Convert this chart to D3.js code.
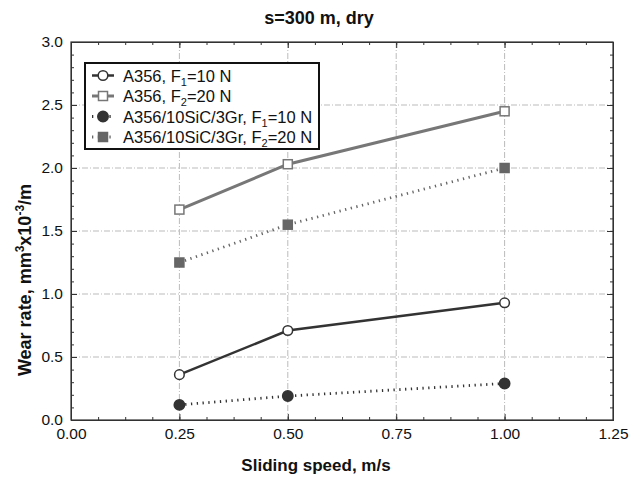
<!DOCTYPE html>
<html>
<head>
<meta charset="utf-8">
<script src="https://cdn.jsdelivr.net/npm/d3@7"></script>
<style>
  body { margin: 0; background: #fff; }
  text { font-family: "Liberation Sans", Arial, sans-serif; }
</style>
</head>
<body>
<script>
// data
var speeds = [0.25, 0.5, 1.0];
var a356F1 = [0.36, 0.71, 0.93];
var a356F2 = [1.67, 2.03, 2.45];
var compF1 = [0.12, 0.19, 0.29];
var compF2 = [1.25, 1.55, 2.0];
var xTicks = [0, 0.25, 0.5, 0.75, 1.0, 1.25];
var yTicks = [0, 0.5, 1.0, 1.5, 2.0, 2.5, 3.0];

var series = [
  { base: "A356, F", sub: "1", rest: "=10 N", values: a356F1, color: "#333", width: 2.5, dash: null, marker: "circle", fill: "#fff" },
  { base: "A356, F", sub: "2", rest: "=20 N", values: a356F2, color: "#777", width: 3, dash: null, marker: "square", fill: "#fff" },
  { base: "A356/10SiC/3Gr, F", sub: "1", rest: "=10 N", values: compF1, color: "#333", width: 2.8, dash: "1.3,4.5", marker: "circle", fill: "#333" },
  { base: "A356/10SiC/3Gr, F", sub: "2", rest: "=20 N", values: compF2, color: "#666", width: 2.8, dash: "1.3,4.5", marker: "square", fill: "#666" }
];

var W = 638, H = 480;
var m = { left: 71, right: 613, top: 42, bottom: 420 };

var svg = d3.select("body").append("svg")
    .attr("width", W)
    .attr("height", H);

var x = d3.scaleLinear().domain([0, 1.25]).range([m.left, m.right]);
var y = d3.scaleLinear().domain([0, 3]).range([m.bottom, m.top]);

// grid
var grid = svg.append("g").attr("stroke", "#bbb").attr("stroke-width", 1).attr("stroke-dasharray", "6,2,1,2");
grid.selectAll(".gx").data(xTicks.slice(1, -1)).enter().append("line")
    .attr("x1", function (d) { return x(d); }).attr("x2", function (d) { return x(d); })
    .attr("y1", m.top).attr("y2", m.bottom);
grid.selectAll(".gy").data(yTicks.slice(1, -1)).enter().append("line")
    .attr("y1", function (d) { return y(d); }).attr("y2", function (d) { return y(d); })
    .attr("x1", m.left).attr("x2", m.right);

// axes with inward ticks, all four sides
var xMinor = d3.range(0, 1.2501, 0.0625);
var yMinor = d3.range(0, 3.001, 0.1);
function fmt2(d) { return d3.format(".2f")(d); }
function fmt1(d) { return d3.format(".1f")(d); }

svg.append("g").attr("transform", "translate(0," + m.bottom + ")")
    .call(d3.axisBottom(x).tickValues(xMinor).tickSize(-3).tickFormat(""));
svg.append("g").attr("transform", "translate(0," + m.bottom + ")")
    .call(d3.axisBottom(x).tickValues(xTicks).tickSizeInner(-6).tickSizeOuter(0).tickPadding(8).tickFormat(fmt2));

svg.append("g").attr("transform", "translate(0," + m.top + ")")
    .call(d3.axisTop(x).tickValues(xMinor).tickSize(-3).tickFormat(""));
svg.append("g").attr("transform", "translate(0," + m.top + ")")
    .call(d3.axisTop(x).tickValues(xTicks).tickSize(-6).tickFormat(""));

svg.append("g").attr("transform", "translate(" + m.left + ",0)")
    .call(d3.axisLeft(y).tickValues(yMinor).tickSize(-3).tickFormat(""));
svg.append("g").attr("transform", "translate(" + m.left + ",0)")
    .call(d3.axisLeft(y).tickValues(yTicks).tickSizeInner(-6).tickSizeOuter(0).tickPadding(8).tickFormat(fmt1));

svg.append("g").attr("transform", "translate(" + m.right + ",0)")
    .call(d3.axisRight(y).tickValues(yMinor).tickSize(-3).tickFormat(""));
svg.append("g").attr("transform", "translate(" + m.right + ",0)")
    .call(d3.axisRight(y).tickValues(yTicks).tickSize(-6).tickFormat(""));

svg.selectAll(".domain").attr("stroke", "#333");
svg.selectAll(".tick line").attr("stroke", "#333");
svg.selectAll(".tick text").attr("font-size", "15.5px").attr("fill", "#111")
    .attr("font-family", "Liberation Sans, Arial, sans-serif");

// frame
svg.append("rect")
    .attr("x", m.left).attr("y", m.top)
    .attr("width", m.right - m.left).attr("height", m.bottom - m.top)
    .attr("fill", "none").attr("stroke", "#333").attr("stroke-width", 1.2);

// lines + markers
var line = d3.line()
    .x(function (d, i) { return x(speeds[i]); })
    .y(function (d) { return y(d); });

function drawMarker(g, s, cx, cy) {
  if (s.marker === "circle") {
    g.append("circle").attr("cx", cx).attr("cy", cy)
        .attr("r", s.fill === "#fff" ? 4.8 : 5.2)
        .attr("fill", s.fill).attr("stroke", s.color).attr("stroke-width", 1.5);
  } else {
    var a = 9;
    g.append("rect").attr("x", cx - a / 2).attr("y", cy - a / 2)
        .attr("width", a).attr("height", a)
        .attr("fill", s.fill).attr("stroke", s.color).attr("stroke-width", 1.5);
  }
}

series.forEach(function (s) {
  svg.append("path").datum(s.values)
      .attr("d", line)
      .attr("fill", "none")
      .attr("stroke", s.color)
      .attr("stroke-width", s.width)
      .attr("stroke-dasharray", s.dash);
  var g = svg.append("g");
  s.values.forEach(function (v, i) { drawMarker(g, s, x(speeds[i]), y(v)); });
});

// legend
var lg = svg.append("g");
lg.append("rect").attr("x", 85).attr("y", 63).attr("width", 234).attr("height", 86)
    .attr("fill", "#fff").attr("stroke", "#111").attr("stroke-width", 2);
series.forEach(function (s, i) {
  var cy = 75.5 + i * 20.5;
  lg.append("line").attr("x1", 92).attr("x2", 114).attr("y1", cy).attr("y2", cy)
      .attr("stroke", s.color).attr("stroke-width", s.width)
      .attr("stroke-dasharray", s.dash);
  drawMarker(lg, s, 103, cy);
  var t = lg.append("text").attr("x", 123).attr("y", cy + 6)
      .attr("font-size", "16.5px").attr("fill", "#111");
  t.append("tspan").text(s.base);
  t.append("tspan").attr("font-size", "11px").attr("dy", 4).text(s.sub);
  t.append("tspan").attr("dy", -4).text(s.rest);
});

// titles
svg.append("text").attr("x", 319).attr("y", 24).attr("text-anchor", "middle")
    .attr("font-size", "18px").attr("font-weight", "bold").attr("fill", "#111")
    .text("s=300 m, dry");

svg.append("text").attr("x", 316).attr("y", 471).attr("text-anchor", "middle")
    .attr("font-size", "17px").attr("font-weight", "bold").attr("fill", "#111")
    .text("Sliding speed, m/s");

var yt = svg.append("text")
    .attr("transform", "translate(31,280) rotate(-90)")
    .attr("text-anchor", "middle")
    .attr("font-size", "18px").attr("font-weight", "bold").attr("fill", "#111");
yt.append("tspan").text("Wear rate, mm");
yt.append("tspan").attr("font-size", "12px").attr("dy", -7).text("3");
yt.append("tspan").attr("dy", 7).text("x10");
yt.append("tspan").attr("font-size", "12px").attr("dy", -7).text("-3");
yt.append("tspan").attr("dy", 7).text("/m");
</script>
</body>
</html>
